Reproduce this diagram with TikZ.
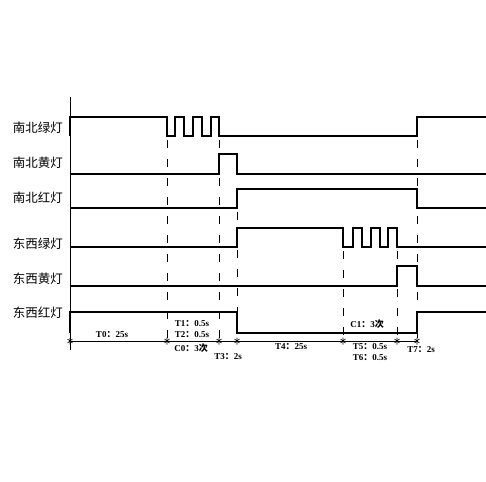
\documentclass[tikz,border=0pt]{standalone}
\usepackage{fontspec}
\setmainfont{Liberation Serif}
\newfontfamily\cjk{Noto Sans CJK SC}
\newcommand\fwc{{\cjk ：}}
\newcommand\ci{{\cjk 次}}
\tikzset{
  wave/.style={line width=1.8pt, line join=miter},
  wavethick/.style={line width=2.6pt, line join=miter},
  guide/.style={line width=0.9pt, dash pattern=on 8pt off 11pt},
  lamp/.style={font=\cjk\fontsize{12.5}{14}\selectfont, anchor=east, inner sep=0pt},
  timelbl/.style={font=\bfseries\fontsize{9}{10}\selectfont, inner sep=0pt},
}
\begin{document}
\begin{tikzpicture}[x=1pt,y=-1pt]
  \useasboundingbox (0,0) rectangle (486,481);
  % axis
  \draw[line width=0.9pt] (70,97) -- (70,350);
  % lamp names
  \node[lamp] (nsg) at (63,128) {南北绿灯};
  \node[lamp] (nsy) at (63,163) {南北黄灯};
  \node[lamp] (nsr) at (63,198) {南北红灯};
  \node[lamp] (ewg) at (63,244) {东西绿灯};
  \node[lamp] (ewy) at (63,279) {东西黄灯};
  \node[lamp] (ewr) at (63,313) {东西红灯};
  % NS green
  \draw[wave] (70,136) -- (70,117) -- (167,117) -- (167,136) -- (175,136) -- (175,117)
    -- (184,117) -- (184,136) -- (193,136) -- (193,117) -- (202,117) -- (202,136)
    -- (211,136) -- (211,117) -- (219,117) -- (219,136) -- (417,136) -- (417,117) -- (486,117);
  % NS yellow
  \draw[wavethick] (70,174) -- (219,174) -- (219,154) -- (237,154) -- (237,174) -- (486,174);
  % NS red
  \draw[wave] (70,208) -- (237,208) -- (237,189) -- (417,189) -- (417,208) -- (486,208);
  % EW green
  \draw[wave] (70,247) -- (237,247) -- (237,228) -- (343,228) -- (343,247) -- (353,247)
    -- (353,228) -- (362,228) -- (362,247) -- (371,247) -- (371,228) -- (380,228)
    -- (380,247) -- (388,247) -- (388,228) -- (397,228) -- (397,247) -- (486,247);
  % EW yellow
  \draw[wave] (70,286) -- (397,286) -- (397,266) -- (417,266) -- (417,286) -- (486,286);
  % EW red
  \draw[wavethick] (70,333) -- (70,312) -- (237,312) -- (237,333) -- (417,333) -- (417,312) -- (486,312);
  % guides
  \foreach \x/\ya in {167/140,219/140,237/212,343/251,397/251,417/140}
    \draw[guide] (\x,\ya) -- (\x,345);
  % time axis
  \draw[line width=0.8pt] (70,341) -- (417,341);
  \foreach \x in {70,167,219,237,343,397,417}
    \draw[line width=0.6pt] (\x,337.5) -- (\x,344.5) (\x-2.5,339) -- (\x+2.5,343) (\x-2.5,343) -- (\x+2.5,339);
  % times
  \node[timelbl] (t0) at (112,335) {T0\fwc 25s};
  \node[timelbl] (t1) at (192,324) {T1\fwc 0.5s};
  \node[timelbl] (t2) at (192,335) {T2\fwc 0.5s};
  \node[timelbl] (c0) at (191,348) {C0\fwc 3\ci};
  \node[timelbl] (t3) at (228,357) {T3\fwc 2s};
  \node[timelbl] (t4) at (291,347) {T4\fwc 25s};
  \node[timelbl] (c1) at (367,324) {C1\fwc 3\ci};
  \node[timelbl] (t5) at (370,347) {T5\fwc 0.5s};
  \node[timelbl] (t6) at (370,358) {T6\fwc 0.5s};
  \node[timelbl] (t7) at (421,350) {T7\fwc 2s};
\end{tikzpicture}
\end{document}
